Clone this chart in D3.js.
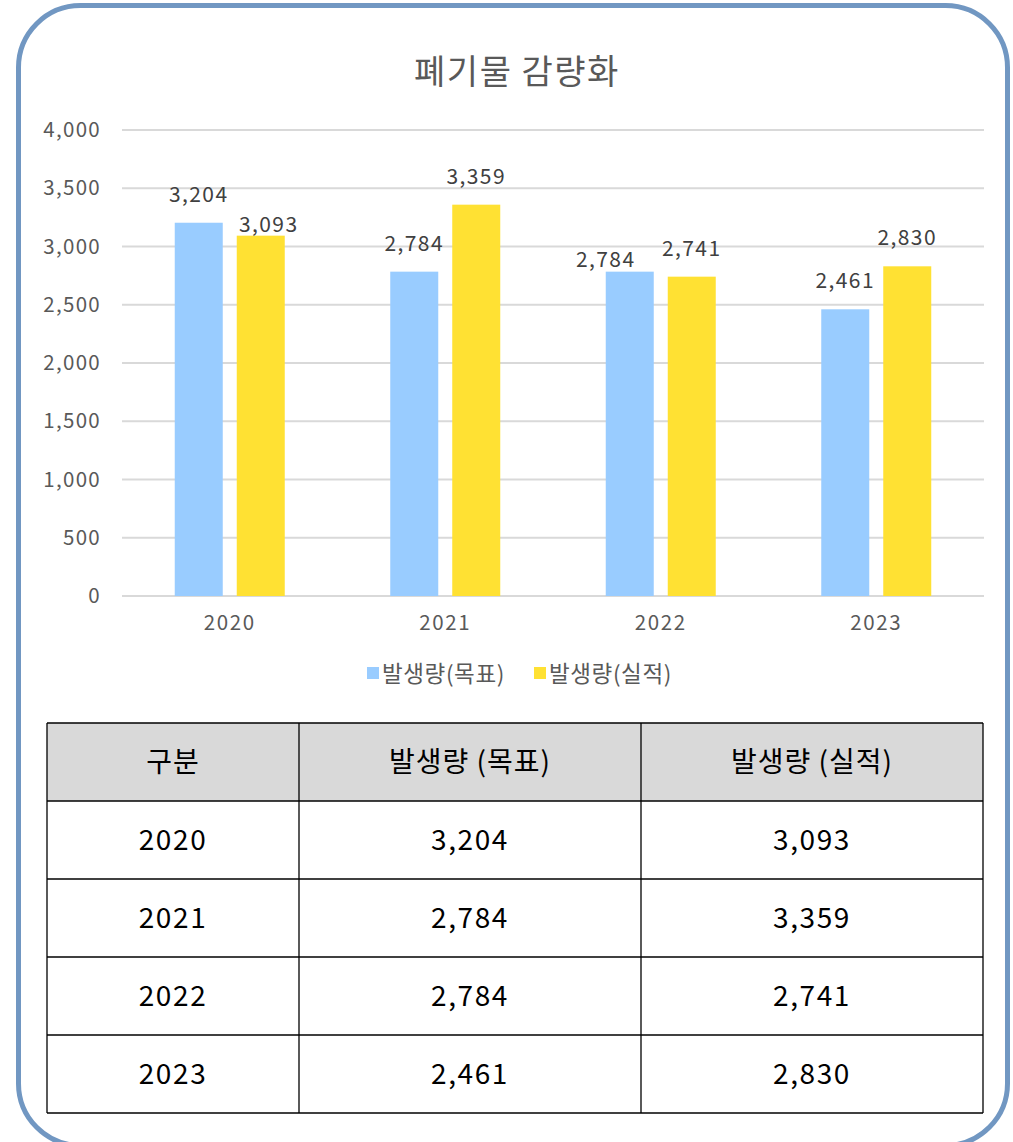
<!DOCTYPE html>
<html><head><meta charset="utf-8">
<script src="https://cdn.jsdelivr.net/npm/d3@7"></script>
<style>body{margin:0;background:#fff}svg{display:block}text{font-family:"Noto Sans CJK KR","Noto Sans",sans-serif}</style>
</head><body>
<script>
const categories = ["2020","2021","2022","2023"];
const seriesNames = ["발생량(목표)","발생량(실적)"];
const tableHeaders = ["구분","발생량 (목표)","발생량 (실적)"];
const targetValues = [3204,2784,2784,2461];
const actualValues = [3093,3359,2741,2830];
const yTicks = [0,500,1000,1500,2000,2500,3000,3500,4000];
const colors = ["#99ccff","#ffe133"];
const title = "폐기물 감량화";
// label nudges (layout only): [series][category] -> [dx, dy]
const labelNudge = [[[0,0],[0,0],[-24,16],[0,0]],[[8,17],[0,0],[0,0],[0,0]]];

const W=1013,H=1142;
const svg=d3.select("body").append("svg").attr("width",W).attr("height",H);
svg.append("rect").attr("x",18.5).attr("y",5.5).attr("width",989).attr("height",1140).attr("rx",62).attr("ry",62)
  .attr("fill","#fff").attr("stroke","#7197c2").attr("stroke-width",5);

svg.append("text").attr("x",517).attr("y",84).attr("text-anchor","middle").attr("font-size",34)
  .attr("letter-spacing",1.5).attr("fill","#595959").text(title);

const x=d3.scaleBand().domain(categories).range([122,984]);
const y=d3.scaleLinear().domain([0,4000]).range([596,130]);
const fmt=d3.format(",");

const g=svg.append("g");
g.selectAll("line.grid").data(yTicks).join("line").attr("x1",122).attr("x2",984)
  .attr("y1",d=>y(d)).attr("y2",d=>y(d)).attr("stroke","#d9d9d9").attr("stroke-width",2);
g.selectAll("text.yt").data(yTicks).join("text").attr("x",101).attr("y",d=>y(d)+7).attr("text-anchor","end")
  .attr("font-size",20.5).attr("letter-spacing",1.3).attr("fill","#595959").text(d=>fmt(d));
g.selectAll("text.xt").data(categories).join("text").attr("x",d=>x(d)+x.bandwidth()/2).attr("y",630)
  .attr("text-anchor","middle").attr("font-size",20.5).attr("letter-spacing",1.6).attr("fill","#595959").text(d=>d);

const series=[targetValues,actualValues];
const bw=48, gap=14;
series.forEach((vals,si)=>{
  const off = si===0 ? -gap/2-bw : gap/2;
  g.selectAll("rect.s"+si).data(vals).join("rect")
    .attr("x",(d,i)=>x(categories[i])+x.bandwidth()/2+off).attr("width",bw)
    .attr("y",d=>y(d)).attr("height",d=>y(0)-y(d)).attr("fill",colors[si]);
  g.selectAll("text.l"+si).data(vals).join("text")
    .attr("x",(d,i)=>x(categories[i])+x.bandwidth()/2+off+bw/2+labelNudge[si][i][0])
    .attr("y",(d,i)=>y(d)-21+labelNudge[si][i][1])
    .attr("text-anchor","middle").attr("font-size",21).attr("letter-spacing",1.4).attr("fill","#404040").text(d=>fmt(d));
});

// legend
const leg=[{x:367},{x:534}];
seriesNames.forEach((n,i)=>{
  svg.append("rect").attr("x",leg[i].x).attr("y",667).attr("width",12).attr("height",12).attr("fill",colors[i]);
  svg.append("text").attr("x",leg[i].x+15).attr("y",682).attr("font-size",22.5).attr("letter-spacing",0.6).attr("fill","#595959").text(n);
});

// table
const colX=[47,299,641,983];
const rowY=[723,801,879,957,1035,1113];
const t=svg.append("g");
t.append("rect").attr("x",colX[0]).attr("y",rowY[0]).attr("width",colX[3]-colX[0]).attr("height",rowY[1]-rowY[0]).attr("fill","#d9d9d9");
rowY.forEach(r=>t.append("line").attr("x1",colX[0]).attr("x2",colX[3]).attr("y1",r).attr("y2",r).attr("stroke","#000").attr("stroke-width",1.3));
colX.forEach(c=>t.append("line").attr("x1",c).attr("x2",c).attr("y1",rowY[0]).attr("y2",rowY[5]).attr("stroke","#000").attr("stroke-width",1.3));
const rows=[tableHeaders].concat(categories.map((c,i)=>[c,fmt(targetValues[i]),fmt(actualValues[i])]));
rows.forEach((r,ri)=>{
  r.forEach((cell,ci)=>{
    t.append("text").attr("x",(colX[ci]+colX[ci+1])/2).attr("y",(rowY[ri]+rowY[ri+1])/2+10)
      .attr("text-anchor","middle").attr("font-size",28).attr("letter-spacing",ri===0?1:1.6).attr("fill","#000").text(cell);
  });
});
</script>
</body></html>
